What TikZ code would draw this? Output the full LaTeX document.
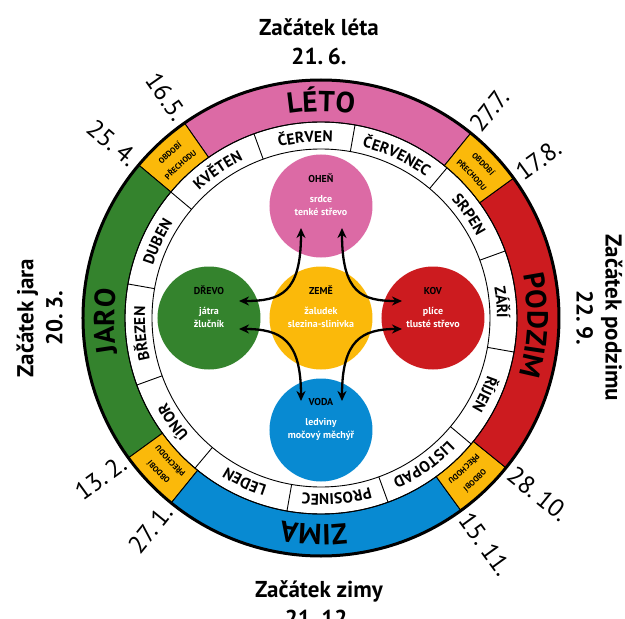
\documentclass[tikz,border=0pt]{standalone}
\usepackage{fontspec}
\setmainfont{PT Sans}
\usetikzlibrary{arrows.meta,decorations.text,calc}

\definecolor{cpink}{RGB}{220,106,165}
\definecolor{cred}{RGB}{204,27,31}
\definecolor{cblue}{RGB}{8,138,210}
\definecolor{cgreen}{RGB}{52,131,45}
\definecolor{corange}{RGB}{251,185,10}

\newcommand\monthfont{\bfseries\fontsize{15.5}{16}\selectfont}
\newcommand\seasonfont{\bfseries\fontsize{29}{29}\selectfont}
\newcommand\trfont{\bfseries\fontsize{8}{9}\selectfont}
\newcommand\datefont{\fontsize{25}{25}\selectfont}
\newcommand\titlefont{\bfseries\fontsize{23}{29}\selectfont}
\newcommand\dsp{\hspace*{0.2em}}

% radius, start angle, end angle, text, font
\newcommand\arctext[5]{\path[decorate,decoration={text along path,text align=center,text={|#5|#4}}] (#2:#1) arc[start angle=#2,end angle=#3,radius=#1];}

\begin{document}
\begin{tikzpicture}[x=1pt,y=1pt,
  thinline/.style={line width=0.9pt},
  elem/.style={circle,minimum size=103pt,inner sep=0pt,draw=none},
  elemtxt/.style={font=\bfseries\fontsize{10}{13}\selectfont,text=white,align=center,inner sep=0pt},
  link/.style={line width=2.3pt,>={Stealth[length=10pt,width=9pt]},<->},
  datel/.style={font=\datefont,anchor=east,inner sep=1pt},
  dater/.style={font=\datefont,anchor=west,inner sep=1pt},
  title/.style={font=\titlefont,align=center,inner sep=0pt}]
\fill[white] (-321,-301) rectangle (304,318);
\useasboundingbox (-321,-301) rectangle (304,318);

% season ring
\foreach \c/\a/\b in {cpink/51/125,corange/125/140,cgreen/140/216,corange/216/231,cblue/231/306,corange/306/321,cred/321/396,corange/396/411}{
  \filldraw[fill=\c,draw=black,thinline] (\a:196) arc[start angle=\a,end angle=\b,radius=196] -- (\b:238) arc[start angle=\b,end angle=\a,radius=238] -- cycle;
}
% month ring
\draw[thinline] (0,0) circle[radius=169];
\draw[thinline] (0,0) circle[radius=196];
\foreach \a in {20,50,...,350} \draw[thinline] (\a:169) -- (\a:196);
\draw[line width=3pt] (0,0) circle[radius=238];

% month names
\arctext{176}{110}{80}{ČERVEN}{\monthfont}
\arctext{176}{80}{50}{ČERVENEC}{\monthfont}
\arctext{176}{50}{20}{SRPEN}{\monthfont}
\arctext{176}{20}{-10}{ZÁŘÍ}{\monthfont}
\arctext{176}{-10}{-40}{ŘÍJEN}{\monthfont}
\arctext{176}{-40}{-70}{LISTOPAD}{\monthfont}
\arctext{176}{290}{260}{PROSINEC}{\monthfont}
\arctext{176}{260}{230}{LEDEN}{\monthfont}
\arctext{176}{230}{200}{ÚNOR}{\monthfont}
\arctext{176}{200}{170}{BŘEZEN}{\monthfont}
\arctext{176}{170}{140}{DUBEN}{\monthfont}
\arctext{176}{140}{110}{KVĚTEN}{\monthfont}

% season names
\arctext{206.5}{125}{55}{LÉTO}{\seasonfont}
\arctext{206.5}{33}{-37}{PODZIM}{\seasonfont}
\arctext{206.5}{303}{233}{ZIMA}{\seasonfont}
\arctext{206.5}{216}{146}{JARO}{\seasonfont}

% transition periods
\foreach \m in {132.5,43.5,223.5,313.5}{
  \pgfmathsetmacro\sa{\m+12}\pgfmathsetmacro\ea{\m-12}
  \arctext{221}{\sa}{\ea}{OBDOBÍ}{\trfont}
  \arctext{205.5}{\sa}{\ea}{PŘECHODU}{\trfont}
}

% elements
\node[elem,fill=cpink] (ohen) at (0,112) {};
\node[elem,fill=corange] (zeme) at (0,0) {};
\node[elem,fill=cgreen] (drevo) at (-112,0) {};
\node[elem,fill=cred] (kov) at (112,0) {};
\node[elem,fill=cblue] (voda) at (0,-112) {};

\node[elemtxt] (ohent) at ([yshift=11pt]ohen.center) {\textcolor{black}{OHEŇ}\\[7pt]srdce\\tenké střevo};
\node[elemtxt] (zemet) at ([yshift=11pt]zeme.center) {\textcolor{black}{ZEMĚ}\\[7pt]žaludek\\slezina-slinivka};
\node[elemtxt] (drevot) at ([yshift=11pt]drevo.center) {\textcolor{black}{DŘEVO}\\[7pt]játra\\žlučník};
\node[elemtxt] (kovt) at ([yshift=11pt]kov.center) {\textcolor{black}{KOV}\\[7pt]plíce\\tlusté střevo};
\node[elemtxt] (vodat) at ([yshift=11pt]voda.center) {\textcolor{black}{VODA}\\[7pt]ledviny\\močový měchýř};

% arrows
\draw[link] ([shift={(-20,-22)}]ohen.center) .. controls (-20,25) and (-40,17) .. ([shift={(30,17)}]drevo.center);
\draw[link] ([shift={(21,-22)}]ohen.center) .. controls (21,25) and (41,17) .. ([shift={(-31,17)}]kov.center);
\draw[link] ([shift={(30,-11)}]drevo.center) .. controls (-40,-11) and (-20,-22) .. ([shift={(-20,29)}]voda.center);
\draw[link] ([shift={(-31,-11)}]kov.center) .. controls (41,-11) and (21,-22) .. ([shift={(21,29)}]voda.center);

% dates
\node[datel,rotate=-55] (d165) at (125:243) {16.5.};
\node[datel,rotate=-40] (d254) at (140:243) {25.\dsp 4.};
\node[dater,rotate=51] (d277) at (51:243) {27.7.};
\node[dater,rotate=36] (d178) at (36:243) {17.8.};
\node[dater,rotate=-39] (d2810) at (-39:243) {28.\dsp 10.};
\node[dater,rotate=-54] (d1511) at (-54:243) {15.\dsp 11.};
\node[datel,rotate=36] (d132) at (216:243) {13.\dsp 2.};
\node[datel,rotate=51] (d271) at (231:243) {27.\dsp 1.};

% titles
\node[title] (tleto) at (-2,276) {Začátek léta\\21.\dsp 6.};
\node[title,rotate=90] (tjaro) at (-281.5,0) {Začátek jara\\20.\dsp 3.};
\node[title,rotate=-90] (tpodzim) at (278.5,0) {Začátek podzimu\\22.\dsp 9.};
\node[title] (tzima) at (-2,-286) {Začátek zimy\\21.\dsp 12.};
\end{tikzpicture}
\end{document}
